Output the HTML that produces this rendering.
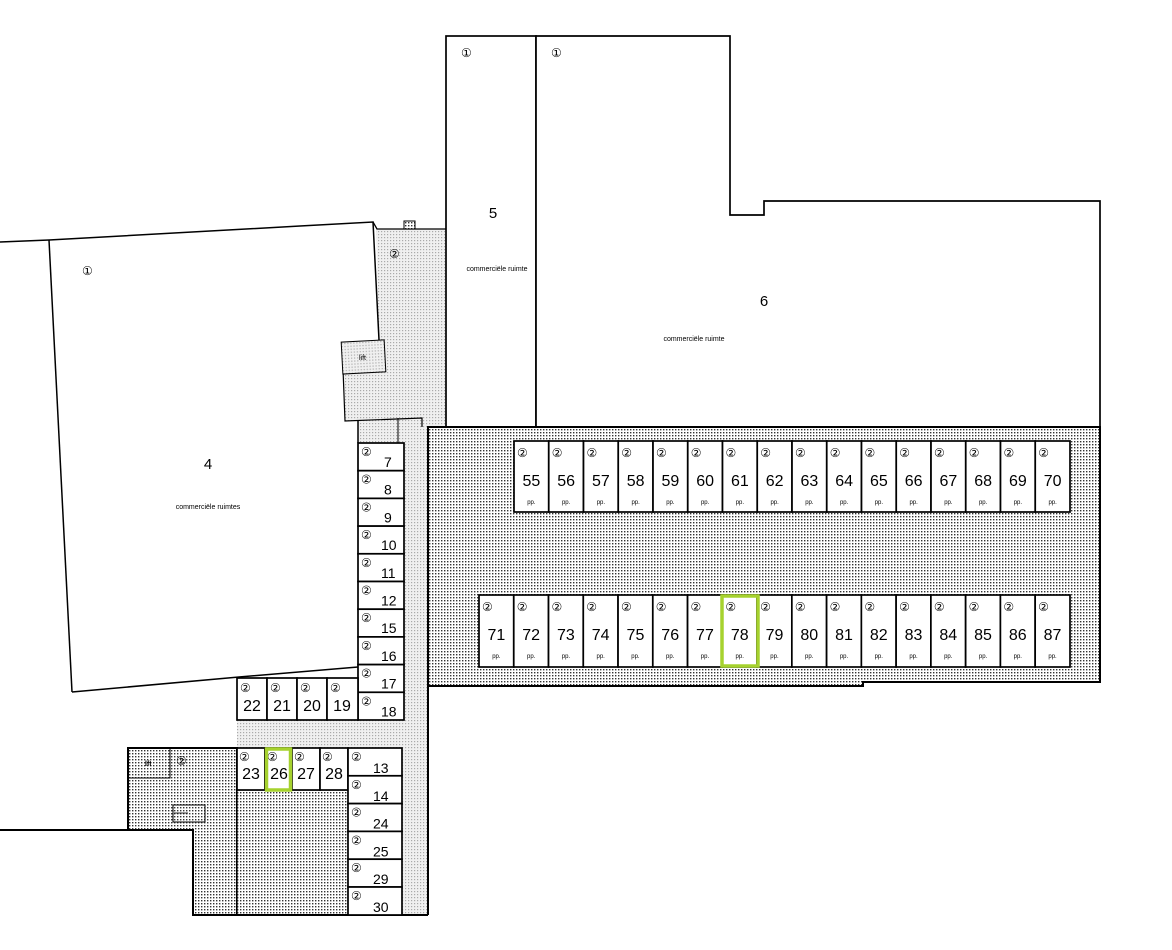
<!DOCTYPE html>
<html><head><meta charset="utf-8"><style>
html,body{margin:0;padding:0;background:#fff;}
svg{display:block;}
text{font-family:"Liberation Sans","DejaVu Sans",sans-serif;fill:#000;}
.c{font-size:12px;font-family:"DejaVu Sans",sans-serif;}
.n{font-size:16px;text-anchor:middle;}
.m{font-size:14px;}
.p{font-size:6px;text-anchor:middle;}
.s rect{fill:#fff;stroke:#000;stroke-width:1.7;}
</style></head><body>
<svg width="1172" height="950" viewBox="0 0 1172 950" xmlns="http://www.w3.org/2000/svg">
<defs>
<pattern id="dk" width="3" height="3" patternUnits="userSpaceOnUse"><rect width="3" height="3" fill="#fff"/><rect width="1.4" height="1.4" fill="#333"/></pattern>
<pattern id="lt" width="3" height="3" patternUnits="userSpaceOnUse"><rect width="3" height="3" fill="#f0f0f0"/><rect width="1.2" height="1.2" fill="#aaa"/></pattern>
</defs>
<polygon points="376,229 446,229 446,427 428,427 428,915 358,915 358,420 345,421 342,343 379,340" fill="url(#lt)" stroke="none"/>
<polyline points="373,222 377,229 446,229" fill="none" stroke="#000" stroke-width="1.3"/>
<rect x="404" y="221" width="11" height="8" fill="url(#dk)" stroke="#000" stroke-width="1"/>
<polyline points="342,343 345,421 422,418 422,427" fill="none" stroke="#000" stroke-width="1.2"/>
<line x1="398" y1="418" x2="398" y2="443" stroke="#000"/>
<line x1="358" y1="420" x2="358" y2="443" stroke="#000" stroke-width="1.5"/>
<rect x="342" y="341" width="43" height="32" fill="url(#lt)" stroke="#000" stroke-width="1" transform="rotate(-3 363 357)"/>
<text x="359" y="360" font-size="7">lift</text>
<text x="389" y="258" class="c">②</text>
<rect x="237" y="720" width="191" height="28" fill="url(#lt)"/>
<polyline points="0,242 49,240 300,226 373,222 379,340" fill="none" stroke="#000" stroke-width="1.5"/>
<line x1="49" y1="240" x2="72" y2="692" stroke="#000" stroke-width="1.5"/>
<polyline points="72,692 239,677 358,667" fill="none" stroke="#000" stroke-width="1.5"/>
<text x="82" y="275" class="c">①</text>
<text x="208" y="469" font-size="15" text-anchor="middle">4</text>
<text x="208" y="509" font-size="7" text-anchor="middle">commerciële ruimtes</text>
<rect x="446" y="36" width="90" height="391" fill="#fff" stroke="#000" stroke-width="1.7"/>
<polygon points="536,36 730,36 730,215 764,215 764,201 1100,201 1100,427 536,427" fill="#fff" stroke="#000" stroke-width="1.7"/>
<text x="461" y="57" class="c">①</text>
<text x="551" y="57" class="c">①</text>
<text x="493" y="218" font-size="15" text-anchor="middle">5</text>
<text x="497" y="271" font-size="7" text-anchor="middle">commerciële ruimte</text>
<text x="764" y="306" font-size="15" text-anchor="middle">6</text>
<text x="694" y="341" font-size="7" text-anchor="middle">commerciële ruimte</text>
<polygon points="428,427 1100,427 1100,682 863,682 863,686 428,686" fill="url(#dk)" stroke="#000" stroke-width="2"/>
<line x1="428" y1="686" x2="428" y2="915" stroke="#000" stroke-width="2"/>
<polygon points="128,748 237,748 237,915 193,915 193,830 128,830" fill="url(#dk)" stroke="#000" stroke-width="2"/>
<rect x="237" y="790" width="111" height="125" fill="url(#dk)" stroke="#000" stroke-width="1.2"/>
<line x1="0" y1="830" x2="193" y2="830" stroke="#000" stroke-width="2"/>
<line x1="193" y1="915" x2="428" y2="915" stroke="#000" stroke-width="2"/>
<rect x="128" y="748" width="42" height="30" fill="none" stroke="#000" stroke-width="1"/>
<text x="145" y="766" font-size="7" font-weight="bold">lft</text>
<text x="176" y="765" class="c">②</text>
<rect x="173" y="805" width="32" height="17" fill="none" stroke="#000" stroke-width="1"/>
<line x1="174" y1="813" x2="188" y2="813" stroke="#000" stroke-width="0.8"/>
<g class="s">
<g transform="translate(358,443)"><rect width="46" height="27.7"/><text x="3" y="13" class="c">②</text><text x="26" y="24" class="m">7</text></g>
<g transform="translate(358,470.7)"><rect width="46" height="27.7"/><text x="3" y="13" class="c">②</text><text x="26" y="24" class="m">8</text></g>
<g transform="translate(358,498.4)"><rect width="46" height="27.7"/><text x="3" y="13" class="c">②</text><text x="26" y="24" class="m">9</text></g>
<g transform="translate(358,526.1)"><rect width="46" height="27.7"/><text x="3" y="13" class="c">②</text><text x="23" y="24" class="m">10</text></g>
<g transform="translate(358,553.8)"><rect width="46" height="27.7"/><text x="3" y="13" class="c">②</text><text x="23" y="24" class="m">11</text></g>
<g transform="translate(358,581.5)"><rect width="46" height="27.7"/><text x="3" y="13" class="c">②</text><text x="23" y="24" class="m">12</text></g>
<g transform="translate(358,609.2)"><rect width="46" height="27.7"/><text x="3" y="13" class="c">②</text><text x="23" y="24" class="m">15</text></g>
<g transform="translate(358,636.9)"><rect width="46" height="27.7"/><text x="3" y="13" class="c">②</text><text x="23" y="24" class="m">16</text></g>
<g transform="translate(358,664.6)"><rect width="46" height="27.7"/><text x="3" y="13" class="c">②</text><text x="23" y="24" class="m">17</text></g>
<g transform="translate(358,692.3)"><rect width="46" height="27.7"/><text x="3" y="13" class="c">②</text><text x="23" y="24" class="m">18</text></g>
<g transform="translate(237,678)"><rect width="30" height="42"/><text x="3" y="14" class="c">②</text><text x="15" y="33" class="n" font-size="15">22</text></g>
<g transform="translate(267,678)"><rect width="30" height="42"/><text x="3" y="14" class="c">②</text><text x="15" y="33" class="n" font-size="15">21</text></g>
<g transform="translate(297,678)"><rect width="30" height="42"/><text x="3" y="14" class="c">②</text><text x="15" y="33" class="n" font-size="15">20</text></g>
<g transform="translate(327,678)"><rect width="31" height="42"/><text x="3" y="14" class="c">②</text><text x="15" y="33" class="n" font-size="15">19</text></g>
<g transform="translate(237,748)"><rect width="28" height="42"/><text x="2" y="13" class="c">②</text><text x="14" y="31" class="n" font-size="15">23</text></g>
<g transform="translate(265,748)"><rect width="27" height="42"/><text x="2" y="13" class="c">②</text><text x="14" y="31" class="n" font-size="15">26</text></g>
<g transform="translate(292,748)"><rect width="28" height="42"/><text x="2" y="13" class="c">②</text><text x="14" y="31" class="n" font-size="15">27</text></g>
<g transform="translate(320,748)"><rect width="28" height="42"/><text x="2" y="13" class="c">②</text><text x="14" y="31" class="n" font-size="15">28</text></g>
<g transform="translate(348,748)"><rect width="54" height="27.8"/><text x="3" y="13" class="c">②</text><text x="25" y="25" class="m">13</text></g>
<g transform="translate(348,775.8)"><rect width="54" height="27.8"/><text x="3" y="13" class="c">②</text><text x="25" y="25" class="m">14</text></g>
<g transform="translate(348,803.6)"><rect width="54" height="27.8"/><text x="3" y="13" class="c">②</text><text x="25" y="25" class="m">24</text></g>
<g transform="translate(348,831.4)"><rect width="54" height="27.8"/><text x="3" y="13" class="c">②</text><text x="25" y="25" class="m">25</text></g>
<g transform="translate(348,859.2)"><rect width="54" height="27.8"/><text x="3" y="13" class="c">②</text><text x="25" y="25" class="m">29</text></g>
<g transform="translate(348,887)"><rect width="54" height="28"/><text x="3" y="13" class="c">②</text><text x="25" y="25" class="m">30</text></g>
<g transform="translate(514,441)"><rect width="34.75" height="71"/><text x="3" y="16" class="c">②</text><text x="17.4" y="45" class="n">55</text><text x="17.4" y="63" class="p">pp.</text></g>
<g transform="translate(548.75,441)"><rect width="34.75" height="71"/><text x="3" y="16" class="c">②</text><text x="17.4" y="45" class="n">56</text><text x="17.4" y="63" class="p">pp.</text></g>
<g transform="translate(583.5,441)"><rect width="34.75" height="71"/><text x="3" y="16" class="c">②</text><text x="17.4" y="45" class="n">57</text><text x="17.4" y="63" class="p">pp.</text></g>
<g transform="translate(618.25,441)"><rect width="34.75" height="71"/><text x="3" y="16" class="c">②</text><text x="17.4" y="45" class="n">58</text><text x="17.4" y="63" class="p">pp.</text></g>
<g transform="translate(653,441)"><rect width="34.75" height="71"/><text x="3" y="16" class="c">②</text><text x="17.4" y="45" class="n">59</text><text x="17.4" y="63" class="p">pp.</text></g>
<g transform="translate(687.75,441)"><rect width="34.75" height="71"/><text x="3" y="16" class="c">②</text><text x="17.4" y="45" class="n">60</text><text x="17.4" y="63" class="p">pp.</text></g>
<g transform="translate(722.5,441)"><rect width="34.75" height="71"/><text x="3" y="16" class="c">②</text><text x="17.4" y="45" class="n">61</text><text x="17.4" y="63" class="p">pp.</text></g>
<g transform="translate(757.25,441)"><rect width="34.75" height="71"/><text x="3" y="16" class="c">②</text><text x="17.4" y="45" class="n">62</text><text x="17.4" y="63" class="p">pp.</text></g>
<g transform="translate(792,441)"><rect width="34.75" height="71"/><text x="3" y="16" class="c">②</text><text x="17.4" y="45" class="n">63</text><text x="17.4" y="63" class="p">pp.</text></g>
<g transform="translate(826.75,441)"><rect width="34.75" height="71"/><text x="3" y="16" class="c">②</text><text x="17.4" y="45" class="n">64</text><text x="17.4" y="63" class="p">pp.</text></g>
<g transform="translate(861.5,441)"><rect width="34.75" height="71"/><text x="3" y="16" class="c">②</text><text x="17.4" y="45" class="n">65</text><text x="17.4" y="63" class="p">pp.</text></g>
<g transform="translate(896.25,441)"><rect width="34.75" height="71"/><text x="3" y="16" class="c">②</text><text x="17.4" y="45" class="n">66</text><text x="17.4" y="63" class="p">pp.</text></g>
<g transform="translate(931,441)"><rect width="34.75" height="71"/><text x="3" y="16" class="c">②</text><text x="17.4" y="45" class="n">67</text><text x="17.4" y="63" class="p">pp.</text></g>
<g transform="translate(965.75,441)"><rect width="34.75" height="71"/><text x="3" y="16" class="c">②</text><text x="17.4" y="45" class="n">68</text><text x="17.4" y="63" class="p">pp.</text></g>
<g transform="translate(1000.5,441)"><rect width="34.75" height="71"/><text x="3" y="16" class="c">②</text><text x="17.4" y="45" class="n">69</text><text x="17.4" y="63" class="p">pp.</text></g>
<g transform="translate(1035.25,441)"><rect width="34.75" height="71"/><text x="3" y="16" class="c">②</text><text x="17.4" y="45" class="n">70</text><text x="17.4" y="63" class="p">pp.</text></g>
<g transform="translate(479,595)"><rect width="34.76" height="72"/><text x="3" y="16" class="c">②</text><text x="17.4" y="45" class="n">71</text><text x="17.4" y="63" class="p">pp.</text></g>
<g transform="translate(513.76,595)"><rect width="34.76" height="72"/><text x="3" y="16" class="c">②</text><text x="17.4" y="45" class="n">72</text><text x="17.4" y="63" class="p">pp.</text></g>
<g transform="translate(548.52,595)"><rect width="34.76" height="72"/><text x="3" y="16" class="c">②</text><text x="17.4" y="45" class="n">73</text><text x="17.4" y="63" class="p">pp.</text></g>
<g transform="translate(583.28,595)"><rect width="34.76" height="72"/><text x="3" y="16" class="c">②</text><text x="17.4" y="45" class="n">74</text><text x="17.4" y="63" class="p">pp.</text></g>
<g transform="translate(618.04,595)"><rect width="34.76" height="72"/><text x="3" y="16" class="c">②</text><text x="17.4" y="45" class="n">75</text><text x="17.4" y="63" class="p">pp.</text></g>
<g transform="translate(652.8,595)"><rect width="34.76" height="72"/><text x="3" y="16" class="c">②</text><text x="17.4" y="45" class="n">76</text><text x="17.4" y="63" class="p">pp.</text></g>
<g transform="translate(687.56,595)"><rect width="34.76" height="72"/><text x="3" y="16" class="c">②</text><text x="17.4" y="45" class="n">77</text><text x="17.4" y="63" class="p">pp.</text></g>
<g transform="translate(722.32,595)"><rect width="34.76" height="72"/><text x="3" y="16" class="c">②</text><text x="17.4" y="45" class="n">78</text><text x="17.4" y="63" class="p">pp.</text></g>
<g transform="translate(757.08,595)"><rect width="34.76" height="72"/><text x="3" y="16" class="c">②</text><text x="17.4" y="45" class="n">79</text><text x="17.4" y="63" class="p">pp.</text></g>
<g transform="translate(791.84,595)"><rect width="34.76" height="72"/><text x="3" y="16" class="c">②</text><text x="17.4" y="45" class="n">80</text><text x="17.4" y="63" class="p">pp.</text></g>
<g transform="translate(826.6,595)"><rect width="34.76" height="72"/><text x="3" y="16" class="c">②</text><text x="17.4" y="45" class="n">81</text><text x="17.4" y="63" class="p">pp.</text></g>
<g transform="translate(861.36,595)"><rect width="34.76" height="72"/><text x="3" y="16" class="c">②</text><text x="17.4" y="45" class="n">82</text><text x="17.4" y="63" class="p">pp.</text></g>
<g transform="translate(896.12,595)"><rect width="34.76" height="72"/><text x="3" y="16" class="c">②</text><text x="17.4" y="45" class="n">83</text><text x="17.4" y="63" class="p">pp.</text></g>
<g transform="translate(930.88,595)"><rect width="34.76" height="72"/><text x="3" y="16" class="c">②</text><text x="17.4" y="45" class="n">84</text><text x="17.4" y="63" class="p">pp.</text></g>
<g transform="translate(965.64,595)"><rect width="34.76" height="72"/><text x="3" y="16" class="c">②</text><text x="17.4" y="45" class="n">85</text><text x="17.4" y="63" class="p">pp.</text></g>
<g transform="translate(1000.4,595)"><rect width="34.76" height="72"/><text x="3" y="16" class="c">②</text><text x="17.4" y="45" class="n">86</text><text x="17.4" y="63" class="p">pp.</text></g>
<g transform="translate(1035.16,595)"><rect width="34.84" height="72"/><text x="3" y="16" class="c">②</text><text x="17.4" y="45" class="n">87</text><text x="17.4" y="63" class="p">pp.</text></g>
</g>
<rect x="722" y="596" width="36" height="70" fill="none" stroke="#a6d22e" stroke-width="3.5"/>
<rect x="266.5" y="749" width="24" height="41" fill="none" stroke="#a6d22e" stroke-width="3.5"/>
</svg>
</body></html>
